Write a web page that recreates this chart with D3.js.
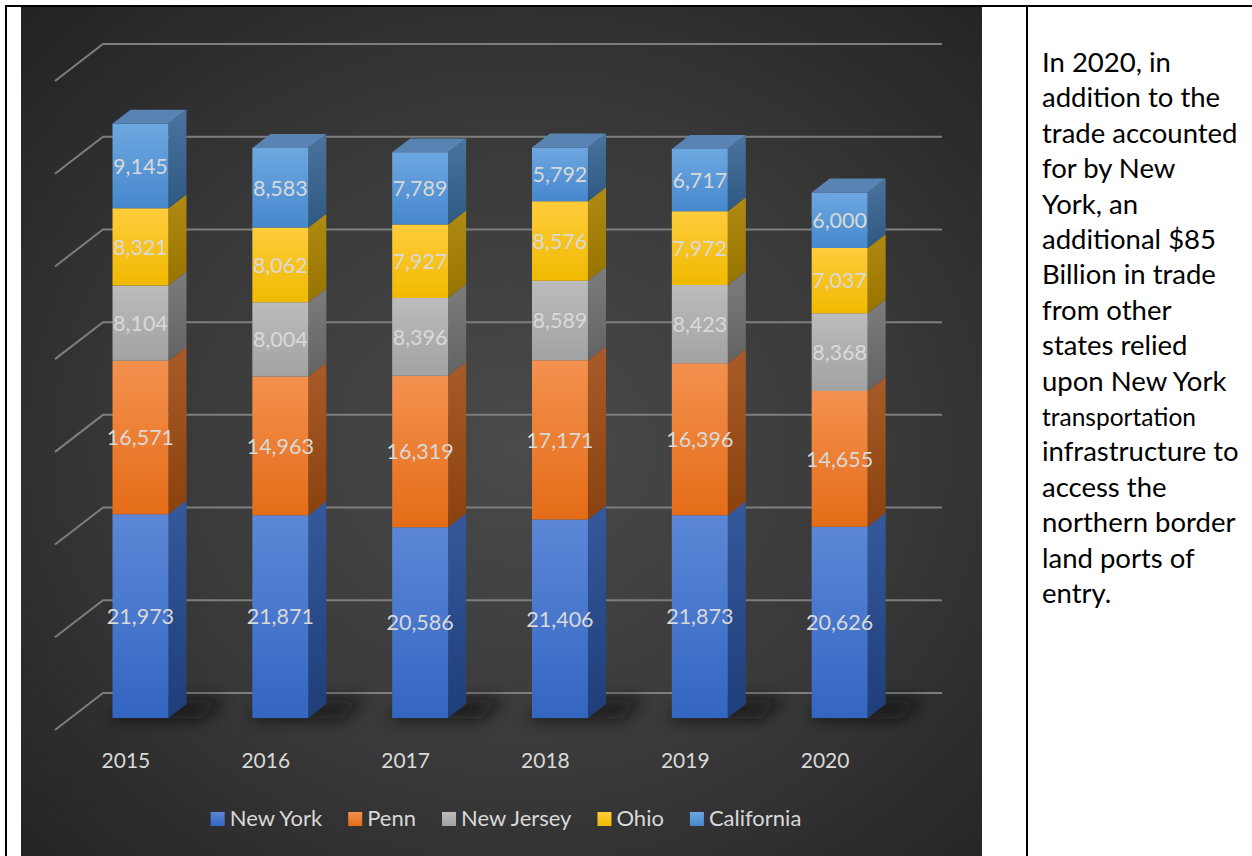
<!DOCTYPE html>
<html>
<head>
<meta charset="utf-8">
<script src="https://cdn.jsdelivr.net/npm/d3@7"></script>
<style>
  body { margin: 0; background: #fff; }
  svg { display: block; }
</style>
</head>
<body>
<svg id="page" width="1252" height="856"></svg>
<script>
// Cross-border trade by state (millions of dollars), stacked by year
const years = ["2015", "2016", "2017", "2018", "2019", "2020"];
const seriesNames = ["New York", "Penn", "New Jersey", "Ohio", "California"];
const newYork    = [21973, 21871, 20586, 21406, 21873, 20626];
const penn       = [16571, 14963, 16319, 17171, 16396, 14655];
const newJersey  = [8104, 8004, 8396, 8589, 8423, 8368];
const ohio       = [8321, 8062, 7927, 8576, 7972, 7037];
const california = [9145, 8583, 7789, 5792, 6717, 6000];
const yTicks = [0, 10000, 20000, 30000, 40000, 50000, 60000, 70000];

const noteLines = [
  "In 2020, in", "addition to the", "trade accounted", "for by New", "York, an",
  "additional $85", "Billion in trade", "from other", "states relied", "upon New York",
  "transportation", "infrastructure to", "access the", "northern border",
  "land ports of", "entry."
];

const seriesValues = [newYork, penn, newJersey, ohio, california];

// face shading per series: front gradient (top, bottom), side gradient, top face
const faceColors = [
  { front: ["#5c87d7", "#3366c2"], side: ["#35599c", "#1f3e7a"], top: "#4d72b8" },
  { front: ["#f4914f", "#e46c17"], side: ["#a85b28", "#8a420f"], top: "#c0652a" },
  { front: ["#bcbcbc", "#a2a2a2"], side: ["#7c7c7c", "#636363"], top: "#8a8a8a" },
  { front: ["#ffcc3c", "#f0ba00"], side: ["#b08b12", "#977300"], top: "#c9a010" },
  { front: ["#6da7e0", "#4688cd"], side: ["#4a739d", "#2e5983"], top: "#5883b3" }
];

const FONT = "Lato, 'Open Sans', sans-serif";
const svg = d3.select("#page");
const defs = svg.append("defs");

// ---- page frame (table borders) ----
const chartBox = { x: 21, y: 7, w: 961, h: 849 };

const bg = defs.append("radialGradient").attr("id", "bgGrad")
  .attr("cx", "52%").attr("cy", "52%").attr("r", "72%");
bg.append("stop").attr("offset", "0%").attr("stop-color", "#4a4a4a");
bg.append("stop").attr("offset", "55%").attr("stop-color", "#383838");
bg.append("stop").attr("offset", "100%").attr("stop-color", "#232323");

svg.append("rect")
  .attr("x", chartBox.x).attr("y", chartBox.y)
  .attr("width", chartBox.w).attr("height", chartBox.h)
  .attr("fill", "url(#bgGrad)");

svg.append("line").attr("x1", 5).attr("x2", 1252).attr("y1", 6).attr("y2", 6)
  .attr("stroke", "#000").attr("stroke-width", 2);
svg.append("line").attr("x1", 6).attr("x2", 6).attr("y1", 5).attr("y2", 856)
  .attr("stroke", "#000").attr("stroke-width", 2);
svg.append("line").attr("x1", 1027).attr("x2", 1027).attr("y1", 5).attr("y2", 856)
  .attr("stroke", "#000").attr("stroke-width", 2);

// ---- 3D oblique projection ----
const depth = { dx: 48, dy: -37 };
const zFront = 0.324, zBack = 0.70;

const x = d3.scaleBand().domain(years).range([55, 894]).padding(0);
const barW = x.bandwidth() * 0.4;
const y = d3.scaleLinear().domain([0, 70000]).range([730, 81]);
const P = (px, v, z) => [px + depth.dx * z, y(v) + depth.dy * z];
const poly = pts => "M" + pts.map(p => p.join(",")).join("L") + "Z";

// gridlines: side wall diagonal + back wall horizontal
const [fx0, fx1] = x.range();
svg.append("g").selectAll("path").data(yTicks).join("path")
  .attr("d", t => {
    const a = P(fx0, t, 0), b = P(fx0, t, 1), c = P(fx1, t, 1);
    return `M${a}L${b}L${c}`;
  })
  .attr("fill", "none").attr("stroke", "#7e7e7e").attr("stroke-width", 2);

// gradients for faces
faceColors.forEach((c, k) => {
  const gf = defs.append("linearGradient").attr("id", "front" + k)
    .attr("x1", 0).attr("y1", 0).attr("x2", 0).attr("y2", 1);
  gf.append("stop").attr("offset", "0%").attr("stop-color", c.front[0]);
  gf.append("stop").attr("offset", "100%").attr("stop-color", c.front[1]);
  const gs = defs.append("linearGradient").attr("id", "side" + k)
    .attr("x1", 0).attr("y1", 0).attr("x2", 0).attr("y2", 1);
  gs.append("stop").attr("offset", "0%").attr("stop-color", c.side[0]);
  gs.append("stop").attr("offset", "100%").attr("stop-color", c.side[1]);
});

// soft floor shadow
defs.append("filter").attr("id", "shadowBlur")
  .attr("x", "-50%").attr("y", "-100%").attr("width", "200%").attr("height", "300%")
  .append("feGaussianBlur").attr("stdDeviation", 8);

const barLeft = yr => x(yr) + (x.bandwidth() - barW) / 2;

svg.append("g").selectAll("path").data(years).join("path")
  .attr("d", yr => {
    const xl = barLeft(yr) - 4, xr = barLeft(yr) + barW + 34;
    return poly([P(xl, 0, zFront - 0.02), P(xr, 0, zFront - 0.02),
                 P(xr, 0, zBack + 0.12), P(xl, 0, zBack + 0.12)]);
  })
  .attr("fill", "#0a0a0a").attr("opacity", 0.75)
  .attr("filter", "url(#shadowBlur)");

// stacked data
const rows = years.map((yr, i) => {
  const r = { year: yr };
  seriesNames.forEach((s, k) => { r[s] = seriesValues[k][i]; });
  return r;
});
const stacked = d3.stack().keys(seriesNames)(rows);

const barsG = svg.append("g");
years.forEach((yr, i) => {
  const xl = barLeft(yr), xr = xl + barW;
  const g = barsG.append("g");
  stacked.forEach((layer, k) => {
    const [v0, v1] = layer[i];
    g.append("path")
      .attr("d", poly([P(xr, v1, zFront), P(xr, v1, zBack), P(xr, v0, zBack), P(xr, v0, zFront)]))
      .attr("fill", `url(#side${k})`);
    g.append("path")
      .attr("d", poly([P(xl, v1, zFront), P(xr, v1, zFront), P(xr, v0, zFront), P(xl, v0, zFront)]))
      .attr("fill", `url(#front${k})`);
    if (k === stacked.length - 1) {
      g.append("path")
        .attr("d", poly([P(xl, v1, zFront), P(xl, v1, zBack), P(xr, v1, zBack), P(xr, v1, zFront)]))
        .attr("fill", faceColors[k].top);
    }
  });
});

// data labels on front faces
const fmt = d3.format(",");
const labelsG = svg.append("g")
  .attr("font-family", FONT).attr("font-size", 21.5)
  .attr("fill", "#d9d9d9").attr("text-anchor", "middle");
stacked.forEach((layer, k) => {
  layer.forEach((d, i) => {
    const xl = barLeft(years[i]);
    const cx = xl + barW / 2 + depth.dx * zFront;
    const cy = (y(d[0]) + y(d[1])) / 2 + depth.dy * zFront;
    labelsG.append("text")
      .attr("x", cx).attr("y", cy).attr("dy", "0.36em")
      .text(fmt(d[1] - d[0]));
  });
});

// category axis labels along the floor front edge
svg.append("g")
  .attr("font-family", FONT).attr("font-size", 21)
  .attr("fill", "#d9d9d9").attr("text-anchor", "middle")
  .selectAll("text").data(years).join("text")
  .attr("x", yr => x(yr) + x.bandwidth() / 2 + 1)
  .attr("y", 768)
  .text(yr => yr);

// legend
const legend = svg.append("g").attr("font-family", FONT).attr("font-size", 22).attr("fill", "#d9d9d9");
const items = legend.selectAll("g").data(seriesNames).join("g");
items.append("rect").attr("width", 14).attr("height", 14).attr("y", 812)
  .attr("fill", (s, k) => `url(#front${k})`);
items.append("text").attr("y", 826).attr("x", 19).text(s => s);
let cursor = 0;
const offsets = [];
items.each(function () {
  offsets.push(cursor);
  const w = d3.select(this).select("text").node().getComputedTextLength();
  cursor += 19 + w + 26;
});
const legendW = cursor - 26;
const legendX = 506 - legendW / 2;
items.attr("transform", (s, k) => `translate(${legendX + offsets[k]},0)`);

// note text in the right column
const note = svg.append("g").attr("font-family", FONT).attr("fill", "#000");
note.selectAll("text").data(noteLines).join("text")
  .attr("x", 1042)
  .attr("y", (t, i) => 72 + i * 35.4)
  .attr("font-size", t => t === "transportation" ? 24.5 : 27.5)
  .text(t => t);
</script>
</body>
</html>
